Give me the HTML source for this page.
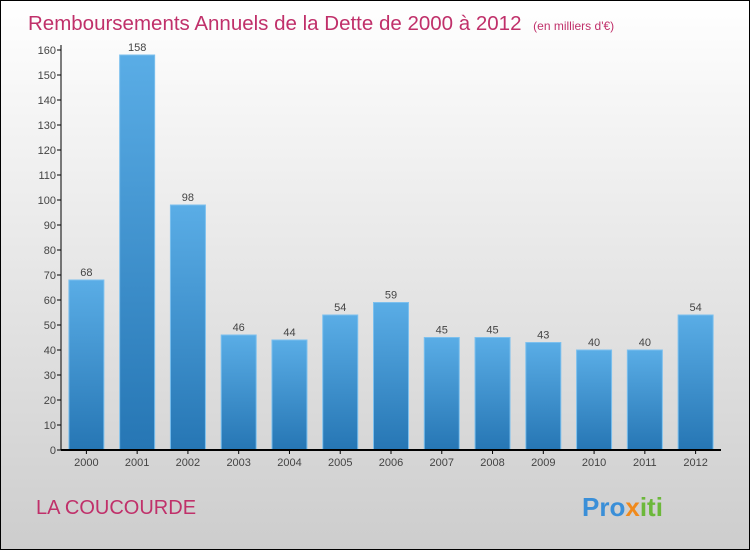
<!DOCTYPE html>
<html><head><meta charset="utf-8"><style>
body{margin:0;width:750px;height:550px;overflow:hidden;font-family:"Liberation Sans",sans-serif}
</style></head><body>
<svg width="750" height="550" xmlns="http://www.w3.org/2000/svg">
<defs>
<linearGradient id="bg" x1="0" y1="0" x2="0" y2="1"><stop offset="0" stop-color="#ffffff"/><stop offset="1" stop-color="#cdcdcd"/></linearGradient>
<linearGradient id="bar" x1="0" y1="0" x2="0" y2="1"><stop offset="0" stop-color="#5aade6"/><stop offset="1" stop-color="#2676b4"/></linearGradient>
</defs>
<rect x="0.5" y="0.5" width="749" height="549" fill="url(#bg)" stroke="#000"/>
<text x="28" y="30" font-size="20.5" fill="#c0306a">Remboursements Annuels de la Dette de 2000 à 2012 <tspan font-size="12" dx="6">(en milliers d'€)</tspan></text>
<g id="plot"></g>
<text x="36" y="514" font-size="20" fill="#c0306a">LA COUCOURDE</text>
<text x="582" y="516" font-size="26" font-weight="bold"><tspan fill="#3a8fd8">Pro</tspan><tspan fill="#f08a1c">x</tspan><tspan fill="#6cb83a">iti</tspan></text>
</svg>
<script>
const categories=["2000","2001","2002","2003","2004","2005","2006","2007","2008","2009","2010","2011","2012"];
const values=[68,158,98,46,44,54,59,45,45,43,40,40,54];
const yTicks=[0,10,20,30,40,50,60,70,80,90,100,110,120,130,140,150,160];
const NS="http://www.w3.org/2000/svg";
const g=document.getElementById("plot");
const x0=61,x1=721,y0=450,y1=50,ymax=160;
const y=v=>y0-(y0-y1)*v/ymax;
const band=(x1-x0)/categories.length;
const xc=i=>x0+band*(i+0.5);
function mk(t,a,p){const e=document.createElementNS(NS,t);for(const k in a)e.setAttribute(k,a[k]);(p||g).appendChild(e);return e;}
yTicks.forEach(t=>{
 const l=mk("line",{x1:x0-4,x2:x0,y1:y(t),y2:y(t),stroke:"#000"});
 
 
 const tx=mk("text",{x:x0-5,y:y(t)+4,"font-size":11,fill:"#444","text-anchor":"end"});
 tx.textContent=t;
 
 
});
categories.forEach((c,i)=>{
 const w=35,v=values[i];
 const r=mk("rect",{x:xc(i)-w/2,y:y(v),width:w,height:y0-y(v),fill:"url(#bar)",stroke:"#7cc0ee","stroke-width":1});
 
 
 const vl=mk("text",{x:xc(i),y:y(v)-4,"font-size":11,fill:"#444","text-anchor":"middle"});
 vl.textContent=v;
 
 
 const tk=mk("line",{x1:xc(i),x2:xc(i),y1:y0,y2:y0+4,stroke:"#000"});
 
 
 const xl=mk("text",{x:xc(i),y:y0+16,"font-size":11,fill:"#444","text-anchor":"middle"});
 xl.textContent=c;
 
 
});
const ya=mk("line",{x1:x0,x2:x0,y1:y1-5,y2:y0,stroke:"#000"});


const xa=mk("line",{x1:x0,x2:x1,y1:y0,y2:y0,stroke:"#000","stroke-width":2});


</script>
</body></html>
